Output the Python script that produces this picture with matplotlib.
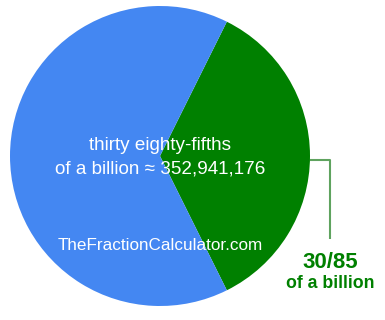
import matplotlib
matplotlib.use("Agg")
import matplotlib.pyplot as plt

# fraction of a billion shown as a pie
labels = ["30/85", "rest"]
values = [30, 85 - 30]
colors = ["#008000", "#4487f2"]
value_text = "352,941,176"

plt.rcParams["font.family"] = ["Liberation Sans", "DejaVu Sans"]
fig = plt.figure(figsize=(3.85, 3.2), dpi=100)
ax = fig.add_axes([0, 0, 1, 1])

ang = 360 * values[0] / sum(values)
ax.pie(values, colors=colors, startangle=-ang / 2, center=(160, 164), radius=150,
       wedgeprops=dict(linewidth=0), frame=True)
ax.set_xlim(0, 385); ax.set_ylim(0, 320); ax.set_aspect("equal"); ax.axis("off")

ax.text(160, 175, "thirty eighty-fifths", color="white", fontsize=13.6, ha="center", va="center")
ax.text(160, 151, f"of a billion \u2248 {value_text}", color="white", fontsize=13.6, ha="center", va="center")
ax.text(160, 75, "TheFractionCalculator.com", color="white", fontsize=12.3, ha="center", va="center")

# bracket line to the label
ax.plot([310, 330, 330], [160, 160, 81], color="#5fa35f", lw=1.5, solid_capstyle="butt")
ax.text(330, 57, labels[0], color="#008000", fontsize=16, weight="bold", ha="center", va="center")
ax.text(330, 36, "of a billion", color="#008000", fontsize=12.8, weight="bold", ha="center", va="center")

fig.savefig("out.png", dpi=100)
